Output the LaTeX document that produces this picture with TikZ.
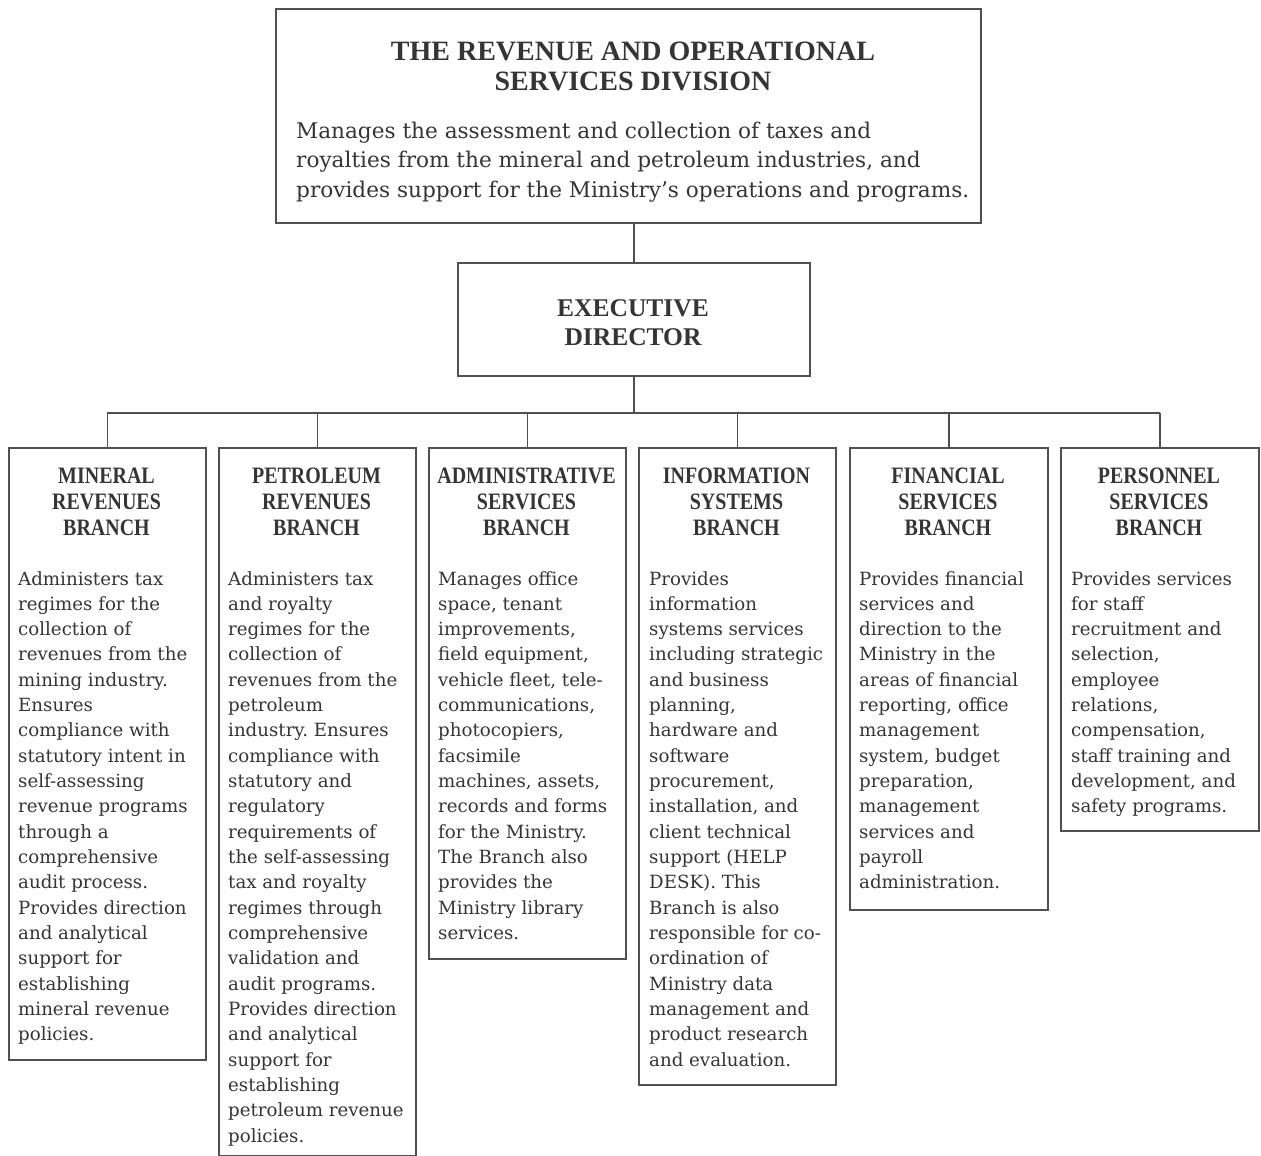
\documentclass[tikz,border=0pt]{standalone}
\usepackage{fontspec}
\setmainfont{DejaVu Serif}
\newfontface\headfont[FakeStretch=0.85]{Liberation Serif Bold}
\newfontface\titlefont{Liberation Serif Bold}
\newfontface\bodyfont{DejaVu Serif}
\definecolor{ink}{HTML}{353535}
\definecolor{rule}{HTML}{505050}
\frenchspacing
\newcommand\bodylines[3]{\node[anchor=base west, inner sep=0pt, text=ink] (#1) at (#2) {\parbox[t]{200pt}{\raggedright\bodyfont\fontsize{18.2pt}{25.33pt}\selectfont #3}};}
\newcommand\headlines[3]{\node[anchor=base, inner sep=0pt, text=ink] (#1) at (#2) {\parbox[t]{200pt}{\centering\headfont\fontsize{23.5pt}{26pt}\selectfont #3}};}
\begin{document}
\begin{tikzpicture}[x=1pt,y=-1pt,
  box/.style={draw=rule, line width=1.8pt, rectangle, inner sep=0pt, anchor=north west, fill=none},
  conn/.style={draw=rule, line width=1.8pt}]
\useasboundingbox[fill=white] (0,0) rectangle (1261,1156);
\frenchspacing
% top box
\node[box, minimum width=705pt, minimum height=214pt] (top) at (275,8) {};
\node[anchor=base, inner sep=0pt, text=ink] (toptitle) at (633,60) {\parbox[t]{700pt}{\centering\titlefont\fontsize{28pt}{30.5pt}\selectfont THE REVENUE AND OPERATIONAL\\SERVICES DIVISION}};
\node[anchor=base west, inner sep=0pt, text=ink] (topdesc) at (296,138) {\parbox[t]{700pt}{\raggedright\bodyfont\fontsize{21.6pt}{29.5pt}\selectfont Manages the assessment and collection of taxes and\\royalties from the mineral and petroleum industries, and\\provides support for the Ministry’s operations and programs.}};
% executive
\node[box, minimum width=352pt, minimum height=113pt] (exec) at (457,262) {};
\node[anchor=base, inner sep=0pt, text=ink] (exectext) at (633,316) {\parbox[t]{300pt}{\centering\titlefont\fontsize{25.5pt}{29pt}\selectfont EXECUTIVE\\DIRECTOR}};
% branch boxes
\node[box, minimum width=197pt, minimum height=612pt] (b1) at (8,447) {};
\node[box, minimum width=197pt, minimum height=708pt] (b2) at (218,447) {};
\node[box, minimum width=197pt, minimum height=511pt] (b3) at (428,447) {};
\node[box, minimum width=197pt, minimum height=637pt] (b4) at (638,447) {};
\node[box, minimum width=198pt, minimum height=462pt] (b5) at (849,447) {};
\node[box, minimum width=198pt, minimum height=383pt] (b6) at (1060,447) {};
% connectors
\coordinate (bus) at (0,413);
\draw[conn] (exec.north |- top.south) -- (exec.north);
\draw[conn] (exec.south) -- (exec.south |- bus);
\draw[conn] (b1.north |- bus) -- (b6.north |- bus);
\foreach \i in {1,...,6} {\draw[conn] (b\i.north |- bus) -- (b\i.north);}
% headings
\headlines{h1}{106.5,483}{MINERAL\\REVENUES\\BRANCH}
\headlines{h2}{316.5,483}{PETROLEUM\\REVENUES\\BRANCH}
\headlines{h3}{526.5,483}{ADMINISTRATIVE\\SERVICES\\BRANCH}
\headlines{h4}{736.5,483}{INFORMATION\\SYSTEMS\\BRANCH}
\headlines{h5}{948,483}{FINANCIAL\\SERVICES\\BRANCH}
\headlines{h6}{1159,483}{PERSONNEL\\SERVICES\\BRANCH}
% bodies
\bodylines{t1}{18,585}{Administers tax\\regimes for the\\collection of\\revenues from the\\mining industry.\\Ensures\\compliance with\\statutory intent in\\self-assessing\\revenue programs\\through a\\comprehensive\\audit process.\\Provides direction\\and analytical\\support for\\establishing\\mineral revenue\\policies.}
\bodylines{t2}{228,585}{Administers tax\\and royalty\\regimes for the\\collection of\\revenues from the\\petroleum\\industry. Ensures\\compliance with\\statutory and\\regulatory\\requirements of\\the self-assessing\\tax and royalty\\regimes through\\comprehensive\\validation and\\audit programs.\\Provides direction\\and analytical\\support for\\establishing\\petroleum revenue\\policies.}
\bodylines{t3}{438,585}{Manages office\\space, tenant\\improvements,\\field equipment,\\vehicle fleet, tele-\\communications,\\photocopiers,\\facsimile\\machines, assets,\\records and forms\\for the Ministry.\\The Branch also\\provides the\\Ministry library\\services.}
\bodylines{t4}{649,585}{Provides\\information\\systems services\\including strategic\\and business\\planning,\\hardware and\\software\\procurement,\\installation, and\\client technical\\support (HELP\\DESK). This\\Branch is also\\responsible for co-\\ordination of\\Ministry data\\management and\\product research\\and evaluation.}
\bodylines{t5}{859,585}{Provides financial\\services and\\direction to the\\Ministry in the\\areas of financial\\reporting, office\\management\\system, budget\\preparation,\\management\\services and\\payroll\\administration.}
\bodylines{t6}{1071,585}{Provides services\\for staff\\recruitment and\\selection,\\employee\\relations,\\compensation,\\staff training and\\development, and\\safety programs.}
\end{tikzpicture}
\end{document}
